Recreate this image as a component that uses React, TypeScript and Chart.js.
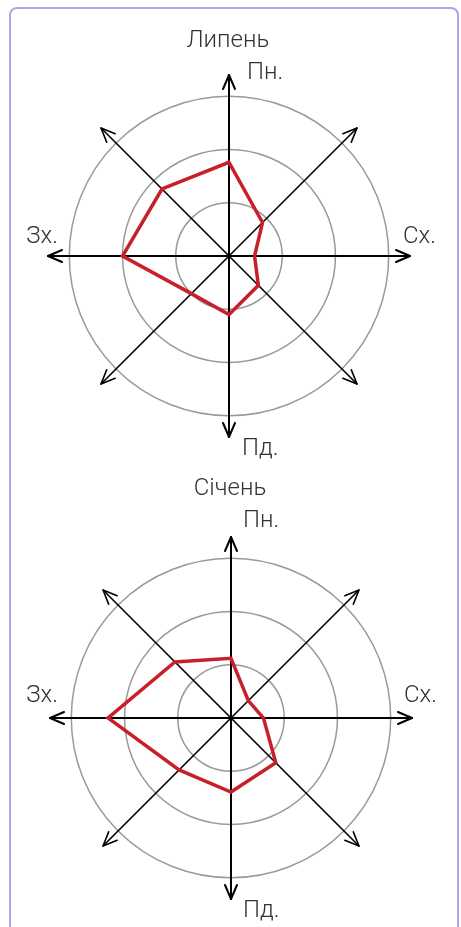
import React, { useEffect, useRef } from "react";
import { Chart, registerables } from "chart.js";

Chart.register(...registerables);

// ---- data ----
const directions = ["Пн.", "Пн.-Сх.", "Сх.", "Пд.-Сх.", "Пд.", "Пд.-Зх.", "Зх.", "Пн.-Зх."];
const axisLabels = ["Пн.", "", "Сх.", "", "Пд.", "", "Зх.", ""];
const julyValues = [1.76, 0.89, 0.48, 0.78, 1.1, 1.0, 2.0, 1.78];
const januaryValues = [1.12, 0.46, 0.61, 1.19, 1.39, 1.38, 2.31, 1.49];
const ringTicks = [1, 2, 3];
const axisMax = 3.4;

const FONT = "300 24px Roboto, 'Noto Sans', sans-serif";
const TEXT = "#333333";

type LabelPos = { dx: number; dy: number; align: CanvasTextAlign };

const rosePlugin = {
  id: "rose",
  beforeDatasetsDraw(chart: any) {
    const scale = chart.scales.r;
    const ctx = chart.ctx;
    const cx = scale.xCenter;
    const cy = scale.yCenter;
    ctx.save();
    ctx.strokeStyle = "#000";
    ctx.lineCap = "round";
    ctx.lineJoin = "round";
    for (let i = 0; i < directions.length; i++) {
      const tip = scale.getPointPositionForValue(i, axisMax);
      const ang = Math.atan2(tip.y - cy, tip.x - cx);
      ctx.lineWidth = i % 2 === 0 ? 2 : 1.6;
      ctx.beginPath();
      ctx.moveTo(cx, cy);
      ctx.lineTo(tip.x, tip.y);
      ctx.stroke();
      const back = 14;
      const half = 6;
      const bx = tip.x - Math.cos(ang) * back;
      const by = tip.y - Math.sin(ang) * back;
      const px = -Math.sin(ang) * half;
      const py = Math.cos(ang) * half;
      ctx.beginPath();
      ctx.moveTo(bx + px, by + py);
      ctx.lineTo(tip.x, tip.y);
      ctx.lineTo(bx - px, by - py);
      ctx.stroke();
    }
    ctx.restore();
  },
  afterDraw(chart: any) {
    const opts = chart.options.plugins.rose;
    const scale = chart.scales.r;
    const ctx = chart.ctx;
    const cx = scale.xCenter;
    const cy = scale.yCenter;
    ctx.save();
    ctx.font = FONT;
    ctx.fillStyle = TEXT;
    ctx.textBaseline = "alphabetic";
    ctx.textAlign = "center";
    ctx.fillText(opts.title, cx + opts.titleDx, cy + opts.titleDy);
    axisLabels.forEach((lab, i) => {
      if (!lab) return;
      const p: LabelPos = opts.labelPos[i];
      ctx.textAlign = p.align;
      ctx.fillText(lab, cx + p.dx, cy + p.dy);
    });
    ctx.restore();
  },
};

type RoseProps = {
  values: number[];
  title: string;
  titleDx: number;
  titleDy: number;
  labelPos: (LabelPos | null)[];
  width: number;
  height: number;
  padding: { left: number; right: number; top: number; bottom: number };
  top: number;
};

function Rose(props: RoseProps) {
  const ref = useRef<HTMLCanvasElement | null>(null);
  useEffect(() => {
    if (!ref.current) return;
    const chart = new Chart(ref.current, {
      type: "radar",
      data: {
        labels: directions,
        datasets: [
          {
            data: props.values,
            borderColor: "#c8202a",
            borderWidth: 3.5,
            backgroundColor: "rgba(0,0,0,0)",
            fill: false,
            pointRadius: 0,
            pointHoverRadius: 0,
            tension: 0,
          },
        ],
      },
      options: {
        animation: false,
        responsive: false,
        events: [],
        layout: { padding: props.padding },
        plugins: {
          legend: { display: false },
          tooltip: { enabled: false },
          title: { display: false },
          rose: {
            title: props.title,
            titleDx: props.titleDx,
            titleDy: props.titleDy,
            labelPos: props.labelPos,
          },
        } as any,
        scales: {
          r: {
            min: 0,
            max: axisMax,
            afterBuildTicks: (scale: any) => {
              scale.ticks = [0, ...ringTicks].map((v) => ({ value: v }));
            },
            ticks: { display: false },
            pointLabels: { display: false },
            angleLines: { display: false },
            grid: { circular: true, color: "#999999", lineWidth: 1.5 },
          },
        },
      },
      plugins: [rosePlugin],
    } as any);
    return () => chart.destroy();
  }, []);
  return (
    <canvas
      ref={ref}
      width={props.width}
      height={props.height}
      style={{ position: "absolute", left: 0, top: props.top, display: "block" }}
    />
  );
}

export default function App() {
  return (
    <div
      style={{
        position: "absolute",
        left: 0,
        top: 0,
        width: 461,
        height: 927,
        overflow: "hidden",
        background: "#fff",
      }}
    >
      <div
        style={{
          position: "absolute",
          left: 9,
          top: 7,
          width: 450,
          height: 960,
          boxSizing: "border-box",
          border: "2px solid #a4abe0",
          borderRadius: 8,
        }}
      />
      <Rose
        values={julyValues}
        title="Липень"
        titleDx={-1}
        titleDy={-209}
        labelPos={[
          { dx: 18, dy: -177, align: "left" },
          null,
          { dx: 174, dy: -13, align: "left" },
          null,
          { dx: 13, dy: 199, align: "left" },
          null,
          { dx: -171, dy: -13, align: "right" },
          null,
        ]}
        width={461}
        height={462}
        padding={{ left: 48, right: 51, top: 75, bottom: 25 }}
        top={0}
      />
      <Rose
        values={januaryValues}
        title="Січень"
        titleDx={-1}
        titleDy={-223}
        labelPos={[
          { dx: 12, dy: -191, align: "left" },
          null,
          { dx: 173, dy: -16, align: "left" },
          null,
          { dx: 12, dy: 199, align: "left" },
          null,
          { dx: -173, dy: -16, align: "right" },
          null,
        ]}
        width={461}
        height={465}
        padding={{ left: 50, right: 49, top: 75, bottom: 28 }}
        top={462}
      />
    </div>
  );
}
